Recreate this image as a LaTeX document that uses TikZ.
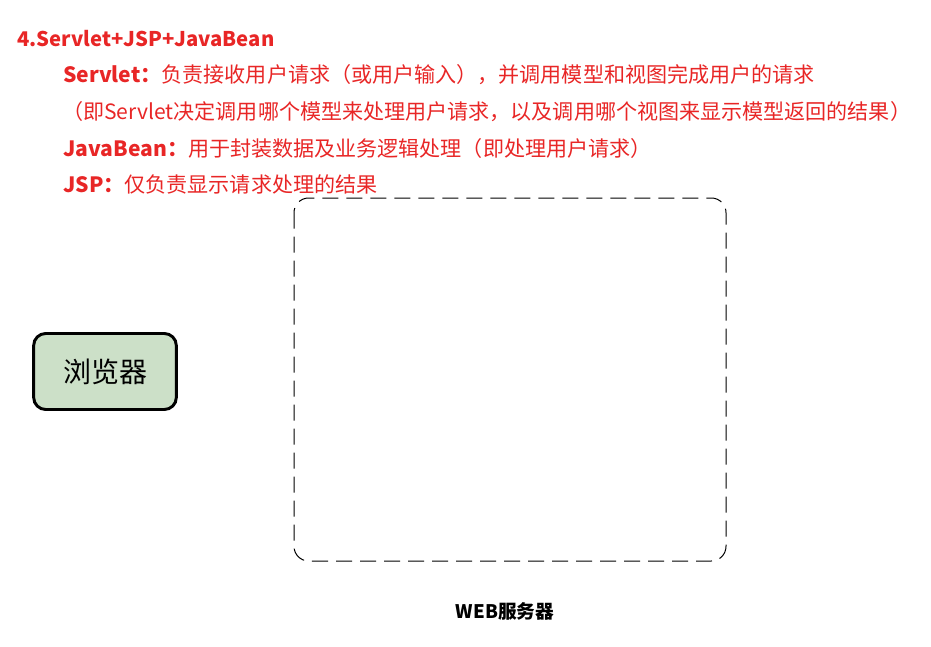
\documentclass[tikz,border=0pt]{standalone}
\usepackage{fontspec}
\setmainfont{Noto Sans CJK SC}
\definecolor{tred}{RGB}{232,38,38}
\definecolor{bgreen}{RGB}{204,224,200}
\begin{document}
\begin{tikzpicture}[x=0.75pt,y=-0.75pt,
  txt/.style={anchor=west,inner sep=0pt,text=tred,font=\fontsize{15.8}{18}\selectfont},
  bbox/.style={draw=black,line width=2.2pt,fill=bgreen,rounded corners=9pt,minimum width=107pt,minimum height=57pt,inner sep=0pt,font=\fontsize{21}{24}\selectfont},
  dbox/.style={draw=black,line width=0.75pt,dash pattern=on 12pt off 6pt,rounded corners=11pt}]
\useasboundingbox (0,0) rectangle (931,646);
\node[txt,font=\bfseries\fontsize{15.2}{18}\selectfont] (t1) at (17,39) {4.Servlet+JSP+JavaBean};
\node[txt] (t2) at (63,75) {\textbf{Servlet：}负责接收用户请求（或用户输入），并调用模型和视图完成用户的请求};
\node[txt] (t3) at (62,112) {（即Servlet决定调用哪个模型来处理用户请求，以及调用哪个视图来显示模型返回的结果）};
\node[txt] (t4) at (63,148) {\textbf{JavaBean：}用于封装数据及业务逻辑处理（即处理用户请求）};
\node[txt] (t5) at (63,184) {\textbf{JSP：}仅负责显示请求处理的结果};
\node[bbox] (browser) at (105,371.5) {浏览器};
\draw[dbox] (294,198) rectangle (726,561);
\node[inner sep=0pt,font=\bfseries\fontsize{14}{16}\selectfont] (web) at (505,611) {WEB服务器};
\end{tikzpicture}
\end{document}
